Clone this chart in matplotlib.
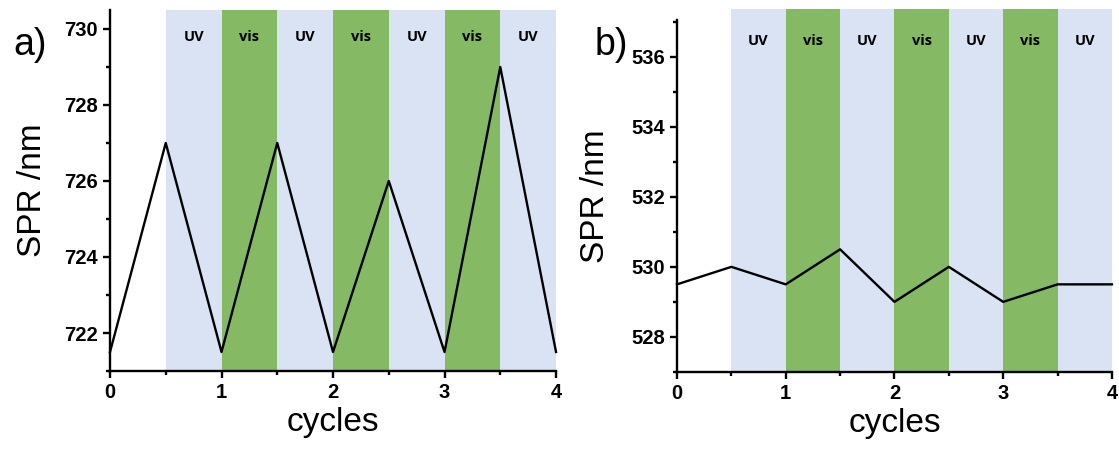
import numpy as np
import matplotlib
matplotlib.use('Agg')
from matplotlib import pyplot as plt
from matplotlib.ticker import MultipleLocator

# Data --------------------------------------------

cycles = [0, 0.5, 1, 1.5, 2, 2.5, 3, 3.5, 4]
sprA = [721.5, 727, 721.5, 727, 721.5, 726, 721.5, 729, 721.5]
sprB = [529.5, 530, 529.5, 530.5, 529, 530, 529, 529.5, 529.5]
bandStarts = [0.5, 1, 1.5, 2, 2.5, 3, 3.5]
bandLabels = ['UV', 'vis', 'UV', 'vis', 'UV', 'vis', 'UV']

uvColor = '#dae3f3'
visColor = '#85b964'

plt.rcParams['font.family'] = ['Liberation Sans', 'DejaVu Sans']

fig = plt.figure(figsize=(11.19, 4.53), dpi=100)
axA = fig.add_axes([0.0983, 0.181, 0.3986, 0.797])
axB = fig.add_axes([0.605, 0.179, 0.3887, 0.777])

# Function to draw one panel
def drawPanel(ax, y, ylim, shadeTop, labelY, ypad):
    for start, lab in zip(bandStarts, bandLabels):
        col = uvColor if lab == 'UV' else visColor
        ax.axvspan(start, start + 0.5, ymin=0, ymax=shadeTop, color=col, lw=0,
                   zorder=0, clip_on=False)
        ax.text(start + 0.25, labelY, lab, transform=ax.get_xaxis_transform(),
                ha='center', va='center', fontsize=10.5, fontweight='bold',
                family=['Open Sans', 'DejaVu Sans'])
    ax.plot(cycles, y, color='black', lw=1.7, zorder=3, clip_on=False)
    ax.set_xlim(0, 4)
    ax.set_ylim(*ylim)
    ax.xaxis.set_major_locator(MultipleLocator(1))
    ax.xaxis.set_minor_locator(MultipleLocator(0.5))
    ax.yaxis.set_major_locator(MultipleLocator(2))
    ax.yaxis.set_minor_locator(MultipleLocator(1))
    for s in ['top', 'right']:
        ax.spines[s].set_visible(False)
    for s in ['left', 'bottom']:
        ax.spines[s].set_linewidth(1.7)
        ax.spines[s].set_zorder(4)
    ax.tick_params(which='major', direction='out', length=5, width=1.7,
                   labelsize=14.5)
    ax.tick_params(which='minor', direction='out', length=3, width=1.7)
    for t in ax.get_xticklabels() + ax.get_yticklabels():
        t.set_fontweight('bold')
    ax.set_xlabel('cycles', fontsize=24, labelpad=4)
    ax.set_ylabel('SPR /nm', fontsize=24, labelpad=ypad)

drawPanel(axA, sprA, (721, 730.5), 1.0, 0.925, 12)
drawPanel(axB, sprB, (527, 537.05), 1.03, 0.94, 15)

fig.text(0.012, 0.9, 'a)', fontsize=27, ha='left', va='center')
fig.text(0.531, 0.9, 'b)', fontsize=27, ha='left', va='center')

fig.savefig('out.png', dpi=100)
